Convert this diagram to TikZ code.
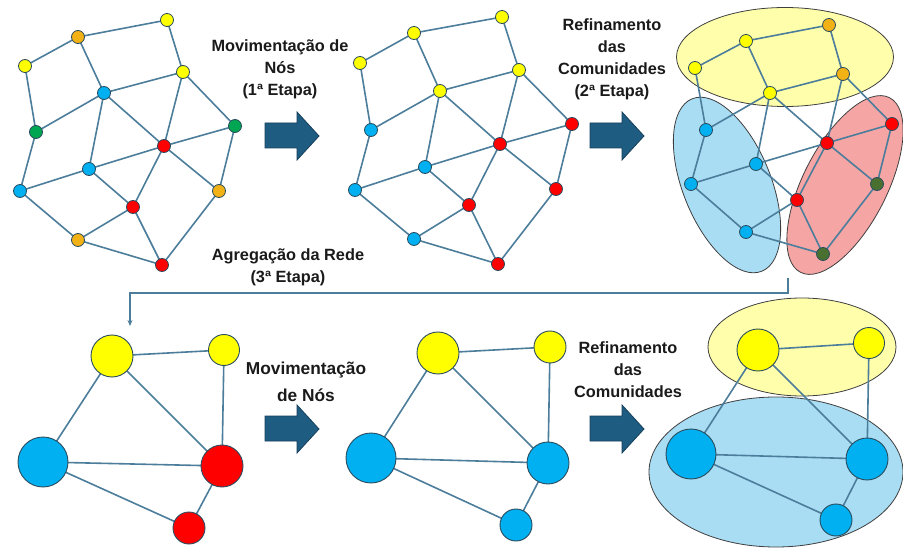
\documentclass[tikz,border=0pt]{standalone}
\usepackage{fontspec}
\setmainfont{Liberation Sans}
\usetikzlibrary{arrows.meta}
\pgfdeclarelayer{commlayer}
\pgfdeclarelayer{edgelayer}
\pgfsetlayers{commlayer,edgelayer,main}
\definecolor{edgec}{HTML}{4C7D9B}
\definecolor{nodeb}{HTML}{2B4C5E}
\definecolor{cy}{HTML}{FFFF00}
\definecolor{co}{HTML}{F2B215}
\definecolor{cg}{HTML}{00A651}
\definecolor{cb}{HTML}{00B0F0}
\definecolor{cr}{HTML}{FF0000}
\definecolor{cd}{HTML}{4A7030}
\definecolor{ey}{HTML}{FFFFAB}
\definecolor{eb}{HTML}{A9DDF4}
\definecolor{er}{HTML}{F6A5A5}
\definecolor{ed}{HTML}{3F3F3F}
\definecolor{arrf}{HTML}{1E5C82}
\definecolor{arrd}{HTML}{16405C}
\definecolor{txt}{HTML}{1A1A1A}
\begin{document}
\begin{tikzpicture}[x=1pt,y=-1pt,
  v/.style={circle,draw=nodeb,line width=0.8pt,minimum size=13pt,inner sep=0pt},
  vy/.style={v,fill=cy}, vo/.style={v,fill=co}, vg/.style={v,fill=cg},
  vb/.style={v,fill=cb}, vr/.style={v,fill=cr}, vd/.style={v,fill=cd},
  big/.style={circle,draw=nodeb,line width=0.9pt,inner sep=0pt,minimum size=#1},
  edge/.style={draw=edgec,line width=1.6pt},
  comm/.style={draw=ed,line width=0.8pt},
  bigarr/.style={fill=arrf,draw=arrd,line width=0.8pt},
  conn/.style={draw=edgec,line width=1.6pt},
  lbl/.style={align=center,text=txt,inner sep=0pt,font=\fontsize{16.3}{22}\selectfont\bfseries}]
\useasboundingbox (0,0) rectangle (903,548);

\begin{pgfonlayer}{commlayer}
\fill[white] (0,0) rectangle (903,548);
% community ellipses (top right)
\draw[comm,fill=ey] (785,57) ellipse [x radius=108.5pt, y radius=49.5pt];
\draw[comm,fill=eb,rotate around={22:(727,185)}] (727,185) ellipse [x radius=44pt, y radius=93pt];
\draw[comm,fill=er,rotate around={-27:(845,185)}] (845,185) ellipse [x radius=42pt, y radius=98pt];
% community ellipses (bottom right)
\draw[comm,fill=ey] (802,347) ellipse [x radius=94pt, y radius=49pt];
\draw[comm,fill=eb] (776,472) ellipse [x radius=127pt, y radius=75pt];
\end{pgfonlayer}

% graph 1
\node[vy] (g1a) at (167,20) {};
\node[vo] (g1b) at (78,37) {};
\node[vy] (g1c) at (25,66) {};
\node[vy] (g1d) at (183,72) {};
\node[vb] (g1e) at (104,93) {};
\node[vg] (g1f) at (235,126) {};
\node[vg] (g1g) at (36,132) {};
\node[vr] (g1h) at (164,146) {};
\node[vb] (g1i) at (89,169) {};
\node[vb] (g1j) at (20,191) {};
\node[vo] (g1k) at (219,191) {};
\node[vr] (g1l) at (133,207) {};
\node[vo] (g1m) at (78,240) {};
\node[vr] (g1n) at (162,265) {};

% graph 2
\node[vy] (g2a) at (502,17) {};
\node[vy] (g2b) at (414,33) {};
\node[vy] (g2c) at (360,63) {};
\node[vy] (g2d) at (519,70) {};
\node[vy] (g2e) at (440,91) {};
\node[vr] (g2f) at (572,124) {};
\node[vb] (g2g) at (371,130) {};
\node[vr] (g2h) at (500,144) {};
\node[vb] (g2i) at (425,167) {};
\node[vb] (g2j) at (355,190) {};
\node[vr] (g2k) at (556,189) {};
\node[vr] (g2l) at (469,205) {};
\node[vb] (g2m) at (414,239) {};
\node[vr] (g2n) at (498,264) {};

% graph 3
\node[vo] (g3a) at (829,25) {};
\node[vy] (g3b) at (746,41) {};
\node[vy] (g3c) at (695,68) {};
\node[vo] (g3d) at (843,74) {};
\node[vy] (g3e) at (770,93) {};
\node[vr] (g3f) at (892,124) {};
\node[vb] (g3g) at (706,130) {};
\node[vr] (g3h) at (827,143) {};
\node[vb] (g3i) at (756,164) {};
\node[vb] (g3j) at (691,184) {};
\node[vd] (g3k) at (877,184) {};
\node[vr] (g3l) at (797,200) {};
\node[vb] (g3m) at (746,232) {};
\node[vd] (g3n) at (823,254) {};

% bottom graphs
\node[big=42pt,fill=cy] (b1A) at (112,356) {};
\node[big=31pt,fill=cy] (b1B) at (224,350) {};
\node[big=50pt,fill=cb] (b1C) at (43,462) {};
\node[big=42pt,fill=cr] (b1D) at (222,466) {};
\node[big=32pt,fill=cr] (b1E) at (189,528) {};

\node[big=42pt,fill=cy] (b2A) at (438,353) {};
\node[big=32pt,fill=cy] (b2B) at (550,347) {};
\node[big=50pt,fill=cb] (b2C) at (371,458) {};
\node[big=42pt,fill=cb] (b2D) at (548,463) {};
\node[big=32pt,fill=cb] (b2E) at (516,525) {};

\node[big=42pt,fill=cy] (b3A) at (758,350) {};
\node[big=31pt,fill=cy] (b3B) at (869,343) {};
\node[big=50pt,fill=cb] (b3C) at (691,454) {};
\node[big=42pt,fill=cb] (b3D) at (867,459) {};
\node[big=32pt,fill=cb] (b3E) at (836,520) {};

% edges behind nodes
\begin{pgfonlayer}{edgelayer}
\foreach \p in {1,2,3}{
  \foreach \u/\w in {a/b,b/c,a/d,c/g,b/e,d/e,d/h,d/f,e/g,e/h,e/i,g/j,h/f,h/i,h/l,h/k,f/k,i/j,i/l,j/m,l/m,l/n,m/n,k/n}{
    \draw[edge] (g\p\u.center) -- (g\p\w.center);
  }
  \foreach \u/\w in {A/B,A/C,A/D,B/D,C/D,C/E,D/E}{
    \draw[edge] (b\p\u.center) -- (b\p\w.center);
  }
}
\end{pgfonlayer}

% big arrows
\foreach \ax/\ay in {265/112,590/112,265/405,590/405}{
  \draw[bigarr,shift={(\ax,\ay)}] (0,11) -- (32,11) -- (32,0) -- (54,24) -- (32,48) -- (32,36) -- (0,36) -- cycle;
}

% labels
\node[lbl] (t1) at (280,69) {Movimentação de\\Nós\\(1ª Etapa)};
\node[lbl] (t2) at (612,59) {Refinamento\\das\\Comunidades\\(2ª Etapa)};
\node[lbl] (t3) at (288,267) {Agregação da Rede\\(3ª Etapa)};
\node[lbl,font=\fontsize{17.3}{27}\selectfont\bfseries] (t4) at (306,382) {Movimentação\\de Nós};
\node[lbl] (t5) at (628,370) {Refinamento\\das\\Comunidades};

% aggregation connector
\coordinate (cs) at (788,278);
\coordinate (ce) at (130,326);
\draw[conn,-{Stealth[length=6pt,width=5pt]}] (cs) -- ++(0,15) -| (ce);
\end{tikzpicture}
\end{document}
